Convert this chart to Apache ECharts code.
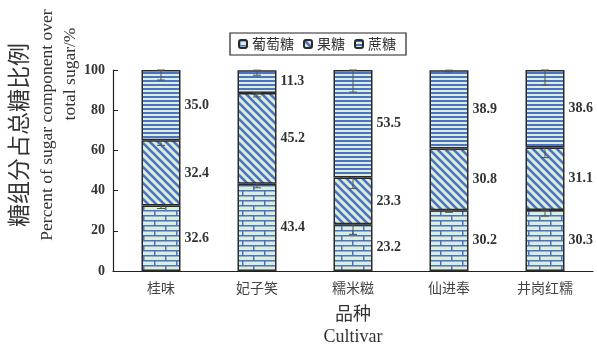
<!DOCTYPE html>
<html><head><meta charset="utf-8">
<script src="https://cdn.jsdelivr.net/npm/echarts@6/dist/echarts.min.js"></script>
<style>html,body{margin:0;padding:0;background:#fff;}#c{width:597px;height:348px;}</style>
</head><body><div id="c"></div>
<script>
const categories = ['桂味','妃子笑','糯米糍','仙进奉','井岗红糯'];
const seriesNames = ['葡萄糖','果糖','蔗糖'];
const glucose = [32.6, 43.4, 23.2, 30.2, 30.3];
const fructose = [32.4, 45.2, 23.3, 30.8, 31.1];
const sucrose = [35.0, 11.3, 53.5, 38.9, 38.6];
const glucoseErr = [1.5, 2.0, 5.0, 1.0, 3.0];
const fructoseErr = [2.5, 2.0, 5.5, 0.8, 5.0];
const sucroseErr = [5.0, 2.5, 11.0, 0.8, 7.5];
const yTicks = [0, 20, 40, 60, 80, 100];

const LIGHT = '#dcedd8', BLUE = '#4a72c6';
function mk(w, h, draw) { const c = document.createElement('canvas'); c.width = w; c.height = h; const x = c.getContext('2d'); x.fillStyle = LIGHT; x.fillRect(0, 0, w, h); x.fillStyle = BLUE; x.strokeStyle = BLUE; draw(x); return c; }
const brick = mk(22, 10, x => {
  x.fillRect(0, 0, 22, 1.5); x.fillRect(0, 5, 22, 1.5);
  x.fillRect(0, 0, 1.5, 5); x.fillRect(11, 5, 1.5, 5);
});
const diag = mk(8, 8, x => {
  x.lineWidth = 2.6; x.beginPath();
  x.moveTo(-2, -2); x.lineTo(10, 10);
  x.moveTo(-10, -2); x.lineTo(2, 10);
  x.moveTo(6, -2); x.lineTo(18, 10);
  x.stroke();
});
const horiz = mk(4, 4, x => { x.fillRect(0, 0, 4, 2); });
const patterns = [brick, diag, horiz];

const chart = echarts.init(document.getElementById('c'), null, {renderer: 'canvas'});
const vals = [glucose, fructose, sucrose];
const errs = [glucoseErr, fructoseErr, sucroseErr];
const errData = [];
categories.forEach((c, i) => {
  let cum = 0;
  for (let s = 0; s < 3; s++) { cum += vals[s][i]; errData.push([i, cum, errs[s][i]]); }
});

const barSeries = seriesNames.map((n, s) => ({
  name: n, type: 'bar', stack: 'a', barWidth: 39,
  data: vals[s],
  itemStyle: { color: { image: patterns[s], repeat: 'repeat' }, borderColor: '#2a2a2a', borderWidth: 1.5 },
  label: { show: true, position: 'right', distance: 4, formatter: p => p.value.toFixed(1),
    fontFamily: 'Liberation Serif', fontWeight: 'bold', fontSize: 14, color: '#333' },
  emphasis: { disabled: true }
}));

chart.setOption({
  animation: false,
  grid: { left: 113, right: 4, top: 70, bottom: 77, containLabel: false },
  legend: {
    data: seriesNames, left: 230, top: 33,
    orient: 'horizontal', itemWidth: 8, itemHeight: 8, itemGap: 9,
    borderColor: '#222', borderWidth: 1.2, padding: [4, 10, 4, 8],
    textStyle: { fontFamily: 'Noto Sans CJK SC', fontSize: 14, color: '#333' }
  },
  xAxis: {
    type: 'category', data: categories,
    axisLine: { lineStyle: { color: '#222', width: 1.2 } },
    axisTick: { inside: true, length: 5, lineStyle: { color: '#222' } },
    axisLabel: { fontFamily: 'Noto Sans CJK SC', fontSize: 14, color: '#444', margin: 10 }
  },
  yAxis: {
    type: 'value', min: 0, max: 100, interval: 20,
    splitLine: { show: false },
    axisLine: { show: true, lineStyle: { color: '#222', width: 1.2 } },
    axisTick: { show: true, inside: true, length: 5, lineStyle: { color: '#222' } },
    axisLabel: { fontFamily: 'Liberation Serif', fontWeight: 'bold', fontSize: 14, color: '#333', margin: 8,
      formatter: v => yTicks.includes(v) ? String(v) : '' }
  },
  graphic: [
    { type: 'text', rotation: Math.PI / 2, x: 18, y: 135,
      style: { text: '糖组分占总糖比例', fontFamily: 'Noto Sans CJK SC', fontSize: 23, fill: '#333', align: 'center', verticalAlign: 'middle' } },
    { type: 'text', rotation: Math.PI / 2, x: 47, y: 125,
      style: { text: 'Percent of sugar component over', fontFamily: 'Liberation Serif', fontSize: 17.5, fill: '#333', align: 'center', verticalAlign: 'middle' } },
    { type: 'text', rotation: Math.PI / 2, x: 70, y: 74,
      style: { text: 'total sugar/%', fontFamily: 'Liberation Serif', fontSize: 17.5, fill: '#333', align: 'center', verticalAlign: 'middle' } },
    { type: 'text', x: 353, y: 313,
      style: { text: '品种', fontFamily: 'Noto Sans CJK SC', fontSize: 18, fill: '#333', align: 'center', verticalAlign: 'middle' } },
    { type: 'text', x: 353, y: 337,
      style: { text: 'Cultivar', fontFamily: 'Liberation Serif', fontSize: 18, fill: '#333', align: 'center', verticalAlign: 'middle' } }
  ],
  series: barSeries.concat([{
    type: 'custom', name: 'err', data: errData, z: 10, silent: true,
    renderItem: (params, api) => {
      const i = api.value(0), top = api.value(1), e = api.value(2);
      const p1 = api.coord([i, top]), p2 = api.coord([i, top - e]);
      const hw = 4;
      const st = { stroke: '#555', lineWidth: 1 };
      return { type: 'group', children: [
        { type: 'line', shape: { x1: p1[0], y1: p1[1], x2: p2[0], y2: p2[1] }, style: st },
        { type: 'line', shape: { x1: p1[0] - hw, y1: p1[1], x2: p1[0] + hw, y2: p1[1] }, style: st },
        { type: 'line', shape: { x1: p2[0] - hw, y1: p2[1], x2: p2[0] + hw, y2: p2[1] }, style: st }
      ]};
    }
  }])
});
</script></body></html>
